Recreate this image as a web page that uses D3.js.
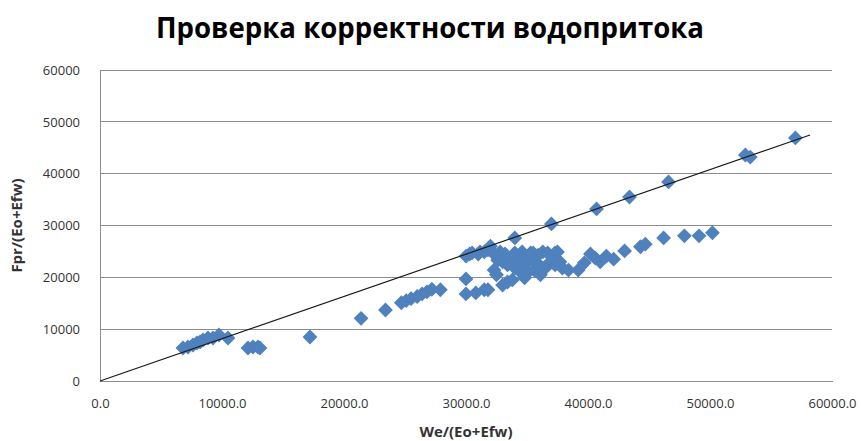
<!DOCTYPE html>
<html>
<head>
<meta charset="utf-8">
<script src="https://cdn.jsdelivr.net/npm/d3@7/dist/d3.min.js"></script>
<style>
  html, body { margin: 0; padding: 0; background: #fff; }
  svg { display: block; }
  text { font-family: "Open Sans", "Noto Sans", sans-serif; fill: #333; }
</style>
</head>
<body>
<svg id="chart" width="861" height="441"></svg>
<script>
// Water influx check: Fpr/(Eo+Efw) against We/(Eo+Efw)
const titleText = "Проверка корректности водопритока";
const xAxisTitle = "We/(Eo+Efw)";
const yAxisTitle = "Fpr/(Eo+Efw)";

const xTicks = [0, 10000, 20000, 30000, 40000, 50000, 60000];
const yTicks = [0, 10000, 20000, 30000, 40000, 50000, 60000];

// We/(Eo+Efw) values
const weValues = [
  6800, 7210, 7620, 7950, 8200, 8440, 8850, 9260, 9750, 10490,
  12130, 12540, 12950, 13110, 17210,
  21400, 23400, 24700, 25100, 25500, 26000, 26400, 26800, 27200, 27900,
  30000, 30000, 30000, 30300, 30500, 30800, 31000, 31150,
  31500, 31500, 31800, 31800, 32000,
  32300, 32300, 32500, 32600, 32800,
  33000, 33000, 33200, 33400, 33400, 33400,
  33800, 33800, 34000, 34000, 34000,
  34300, 34400, 34400, 34600,
  34800, 34800, 34800, 35100, 35100, 35300,
  35500, 35600, 35600, 35900, 36000, 36100,
  36300, 36500, 36700, 36900, 37000,
  37300, 37300, 37500, 37700, 37900, 38400,
  39200, 39700, 40200, 40600, 41000, 41500, 42100, 43000, 44300, 44700,
  46200, 47900, 49100, 50200,
  40700, 43400, 46600, 52900, 53300, 57000
];

// Fpr/(Eo+Efw) values
const fprValues = [
  6370, 6560, 6950, 7330, 7520, 7910, 8300, 8300, 8870, 8300,
  6370, 6560, 6560, 6370, 8490,
  12100, 13700, 15100, 15500, 15900, 16300, 16800, 17200, 17700, 17600,
  24100, 19700, 16800, 24500, 24700, 17000, 24500, 24900,
  24900, 17600, 25300, 17600, 26000,
  24500, 21400, 20500, 23300, 24900,
  18500, 23000, 24500, 19100, 23700, 22400,
  23000, 19500, 27600, 24700, 21800,
  21400, 24300, 23000, 24900,
  22400, 19900, 24100, 23300, 21000, 24700,
  24700, 23000, 21400, 24300, 22400, 20500,
  24900, 21800, 24700, 23000, 30300,
  24700, 22400, 24900, 23000, 21800, 21400,
  21400, 22800, 24500, 23700, 23000, 24100, 23500, 25100, 25900, 26400,
  27600, 28000, 28000, 28600,
  33200, 35500, 38400, 43600, 43200, 46900
];

// Linear trend through the origin
const trendSlope = 0.8155;
const trendXEnd = 58200;

const svg = d3.select("#chart");
const margin = { left: 100, right: 29, top: 70, bottom: 60 };
const W = 861, H = 441;
const plotW = W - margin.left - margin.right;
const plotH = H - margin.top - margin.bottom;

const x = d3.scaleLinear().domain([0, 60000]).range([margin.left, margin.left + plotW]);
const y = d3.scaleLinear().domain([0, 60000]).range([margin.top + plotH, margin.top]);

// Title
svg.append("text")
  .attr("x", 430).attr("y", 38)
  .attr("text-anchor", "middle")
  .attr("font-size", 28).attr("font-weight", "bold")
  .attr("textLength", 548).attr("lengthAdjust", "spacingAndGlyphs")
  .style("fill", "#000")
  .text(titleText);

// Horizontal gridlines
svg.append("g")
  .selectAll("line")
  .data(yTicks.filter(d => d > 0))
  .join("line")
  .attr("x1", x(0)).attr("x2", x(60000))
  .attr("y1", d => y(d)).attr("y2", d => y(d))
  .attr("stroke", "#8c8c8c").attr("stroke-width", 1)
  .attr("shape-rendering", "crispEdges");

// Y axis
const yAxis = d3.axisLeft(y).tickValues(yTicks).tickSize(0).tickPadding(20).tickFormat(d3.format("d"));
const gy = svg.append("g").attr("transform", `translate(${x(0)},0)`).call(yAxis);
gy.select(".domain").attr("stroke", "#8c8c8c").attr("shape-rendering", "crispEdges");
gy.selectAll("text").attr("font-size", 13).style("fill", "#333").attr("font-family", "Open Sans, sans-serif");

// X axis
const xAxis = d3.axisBottom(x).tickValues(xTicks).tickSize(0).tickPadding(18).tickFormat(d3.format(".1f"));
const gx = svg.append("g").attr("transform", `translate(0,${y(0)})`).call(xAxis);
gx.select(".domain").attr("stroke", "#8c8c8c").attr("shape-rendering", "crispEdges");
gx.selectAll("text").attr("font-size", 13).style("fill", "#333").attr("font-family", "Open Sans, sans-serif");

// Axis titles
svg.append("text")
  .attr("x", 466).attr("y", 437)
  .attr("text-anchor", "middle")
  .attr("font-size", 15).attr("font-weight", "bold")
  .text(xAxisTitle);

svg.append("text")
  .attr("transform", `translate(22,${y(30000)}) rotate(-90)`)
  .attr("text-anchor", "middle")
  .attr("font-size", 15).attr("font-weight", "bold")
  .text(yAxisTitle);

// Square diamond marker, half-diagonal r
const diamondType = {
  draw(ctx, size) {
    const r = Math.sqrt(size / 2);
    ctx.moveTo(0, -r);
    ctx.lineTo(r, 0);
    ctx.lineTo(0, r);
    ctx.lineTo(-r, 0);
    ctx.closePath();
  }
};
const points = weValues.map((v, i) => ({ we: v, fpr: fprValues[i] }));
const diamond = d3.symbol().type(diamondType).size(2 * 7.4 * 7.4);
svg.append("g")
  .selectAll("path")
  .data(points)
  .join("path")
  .attr("d", diamond)
  .attr("transform", d => `translate(${x(d.we)},${y(d.fpr)})`)
  .attr("fill", "#4f81bd");

// Trend line
svg.append("line")
  .attr("x1", x(0)).attr("y1", y(0))
  .attr("x2", x(trendXEnd)).attr("y2", y(trendSlope * trendXEnd))
  .attr("stroke", "#1a1a1a").attr("stroke-width", 1.2);
</script>
</body>
</html>
